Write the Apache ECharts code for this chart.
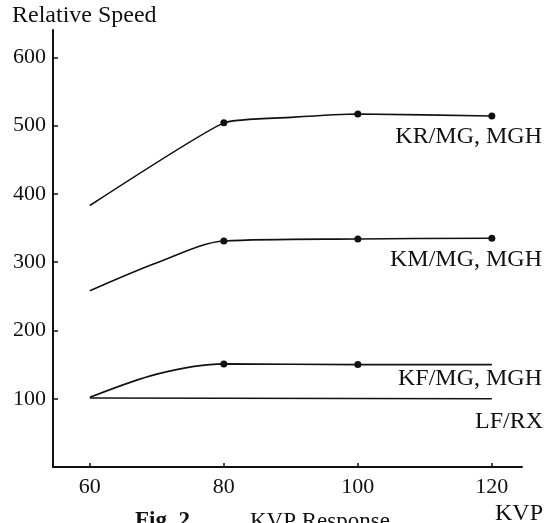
<!DOCTYPE html>
<html>
<head>
<meta charset="utf-8">
<script src="https://cdn.jsdelivr.net/npm/echarts@6/dist/echarts.min.js"></script>
<style>
  html, body { margin: 0; padding: 0; background: #fff; }
  #chart { width: 557px; height: 523px; }
</style>
</head>
<body>
<div id="chart"></div>
<script>
// values (KVP on x, relative speed on y)
const xTicks = [60, 80, 100, 120];
const yTicks = [100, 200, 300, 400, 500, 600];

const krX = [60, 80, 90, 100, 120];
const krY = [383, 504, 512, 517, 514];
const krDots = [80, 100, 120];

const kmX = [60, 70, 80, 100, 120];
const kmY = [258, 299, 331, 334, 335];
const kmDots = [80, 100, 120];

const kfX = [60, 70, 80, 100, 120];
const kfY = [102, 136, 151, 150, 150];
const kfDots = [80, 100];

const lfX = [60, 120];
const lfY = [101, 100];

const serif = "'Liberation Serif', 'DejaVu Serif', serif";

const chart = echarts.init(document.getElementById("chart"));

const pairs = (xs, ys) => xs.map((x, i) => [x, ys[i]]);

const curve = (name, xs, ys, dots, smooth) => ({
  name: name,
  type: "line",
  data: pairs(xs, ys),
  smooth: smooth,
  symbol: v => (dots.includes(v[0]) ? "circle" : "none"),
  symbolSize: 7,
  showAllSymbol: true,
  lineStyle: { color: "#111", width: 1.6 },
  itemStyle: { color: "#111" },
  silent: true,
  animation: false
});

const label = (text, x, y, align, size) => ({
  type: "text",
  x: x,
  y: y,
  style: {
    text: text,
    fontFamily: serif,
    fontSize: size || 24,
    fill: "#111",
    textAlign: align || "right",
    textVerticalAlign: "middle"
  }
});

chart.setOption({
  backgroundColor: "#fff",
  animation: false,
  grid: { left: 53, right: 35, top: 30, bottom: 56 },
  xAxis: {
    type: "value",
    min: 54.5,
    max: 124.5,
    splitLine: { show: false },
    axisLine: { lineStyle: { color: "#111", width: 2 } },
    axisTick: {
      inside: true,
      length: 4,
      customValues: xTicks,
      lineStyle: { color: "#111", width: 1.5 }
    },
    axisLabel: {
      customValues: xTicks,
      color: "#111",
      fontFamily: serif,
      fontSize: 22,
      margin: 9
    }
  },
  yAxis: {
    type: "value",
    min: 0,
    max: 640,
    splitLine: { show: false },
    axisLine: { show: true, lineStyle: { color: "#111", width: 2 } },
    axisTick: {
      show: true,
      inside: true,
      length: 5,
      customValues: yTicks,
      lineStyle: { color: "#111", width: 1.5 }
    },
    axisLabel: {
      customValues: yTicks,
      color: "#111",
      fontFamily: serif,
      fontSize: 22,
      margin: 7
    }
  },
  graphic: [
    label("Relative Speed", 12, 16, "left"),
    label("KR/MG, MGH", 542, 137),
    label("KM/MG, MGH", 542, 260),
    label("KF/MG, MGH", 542, 379),
    label("LF/RX", 543, 422),
    label("KVP", 543, 514),
    {
      type: "text",
      x: 135,
      y: 510,
      style: {
        text: "Fig. 2",
        fontFamily: serif,
        fontWeight: "bold",
        fontSize: 23,
        fill: "#111",
        textVerticalAlign: "top"
      }
    },
    {
      type: "text",
      x: 250,
      y: 510,
      style: {
        text: "KVP Response",
        fontFamily: serif,
        fontSize: 23,
        fill: "#111",
        textVerticalAlign: "top"
      }
    }
  ],
  series: [
    curve("KR/MG, MGH", krX, krY, krDots, 0.15),
    curve("KM/MG, MGH", kmX, kmY, kmDots, 0.3),
    curve("KF/MG, MGH", kfX, kfY, kfDots, 0.3),
    curve("LF/RX", lfX, lfY, [], false)
  ]
});
</script>
</body>
</html>
